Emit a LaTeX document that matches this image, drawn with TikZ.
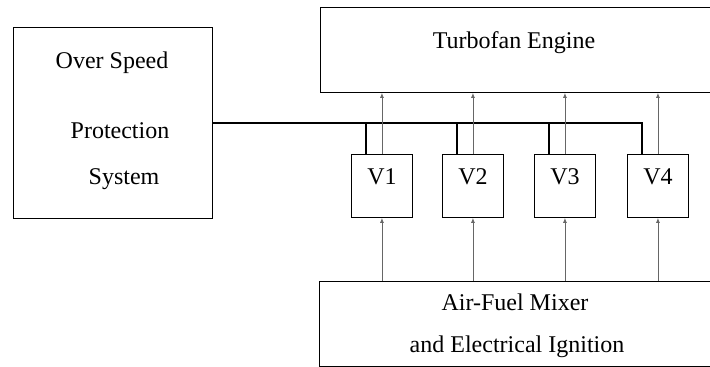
\documentclass[tikz,border=0pt]{standalone}
\usepackage{fontspec}
\setmainfont{Liberation Serif}
\usetikzlibrary{arrows.meta,calc}
\begin{document}
\begin{tikzpicture}[x=1pt,y=-1pt,
  box/.style={draw=black,line width=0.9pt,inner sep=0pt,anchor=north west},
  txt/.style={font=\fontsize{24}{28}\selectfont,inner sep=0pt},
  sig/.style={draw=black!60,line width=0.8pt,-{Latex[length=5pt,width=4pt]}},
  bus/.style={draw=black,line width=2.6pt}]
\useasboundingbox (0,0) rectangle (710,367);
\clip (0,0) rectangle (710,367);
% boxes
\node[box,minimum width=199pt,minimum height=191pt] (ops) at (13,27) {};
\node[box,minimum width=420pt,minimum height=85pt] (tf) at (320,7) {};
\node[box,minimum width=420pt,minimum height=85pt] (afm) at (319,281) {};
\node[box,minimum width=61pt,minimum height=63pt] (v1) at (351,154) {};
\node[box,minimum width=61pt,minimum height=63pt] (v2) at (442,154) {};
\node[box,minimum width=61pt,minimum height=63pt] (v3) at (534,154) {};
\node[box,minimum width=61pt,minimum height=63pt] (v4) at (627,154) {};
% texts
\node[txt] (t1) at (112,63) {Over Speed};
\node[txt] (t2) at (120,131) {Protection};
\node[txt] (t3) at (124,179) {System};
\node[txt] (t4) at (514,43) {Turbofan Engine};
\node[txt] (t5) at (515,302) {Air-Fuel Mixer};
\node[txt] (t6) at (517,347) {and Electrical Ignition};
\node[txt] (l1) at ($(v1.center)+(0,-9)$) {V1};
\node[txt] (l2) at ($(v2.center)+(0,-9)$) {V2};
\node[txt] (l3) at ($(v3.center)+(0,-9)$) {V3};
\node[txt] (l4) at ($(v4.center)+(0,-9)$) {V4};
% bus
\coordinate (d1) at ($(v1.north west)+(15,0)$);
\coordinate (d2) at ($(v2.north west)+(15,0)$);
\coordinate (d3) at ($(v3.north west)+(15,0)$);
\coordinate (d4) at ($(v4.north west)+(15,0)$);
\draw[bus] (ops.east) -| (d4);
\foreach \d in {d1,d2,d3} \draw[bus] (\d) -- (\d |- ops.east);
% signals
\foreach \v in {v1,v2,v3,v4} {
  \draw[sig] (\v.north) -- (\v.north |- tf.south);
  \draw[sig] (\v.south |- afm.north) -- (\v.south);
}
\end{tikzpicture}
\end{document}
